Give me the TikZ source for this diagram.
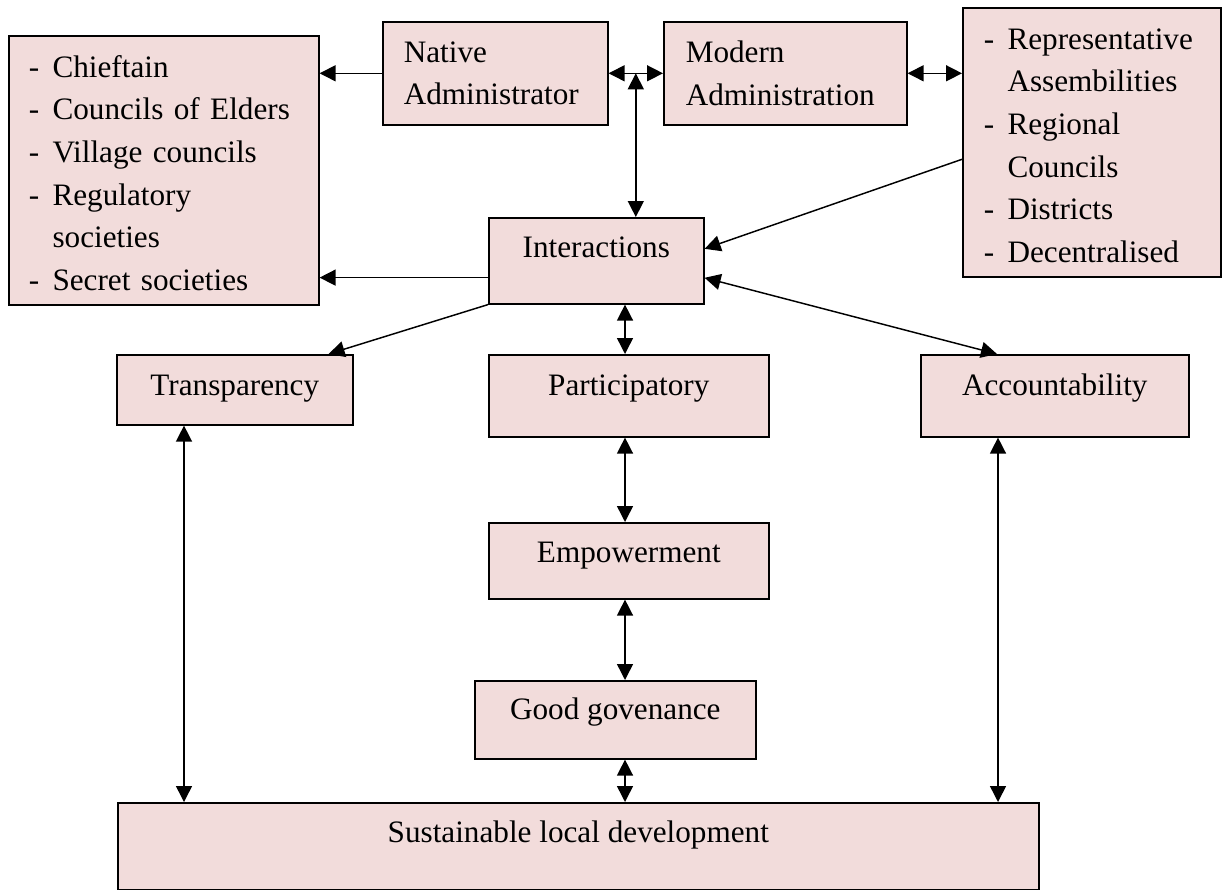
\documentclass[tikz,border=0pt]{standalone}
\usepackage{fontspec}
\setmainfont{Liberation Serif}
\usetikzlibrary{arrows.meta,calc}
\definecolor{blush}{HTML}{F2DCDB}

\begin{document}
\begin{tikzpicture}[
  x=0.375pt,y=-0.375pt,
  font=\fontsize{11.7}{16}\selectfont,
  box/.style={draw,line width=0.6pt,fill=blush,anchor=north west,inner sep=0pt},
  list/.style={box,align=left,inner xsep=7.5pt},
  link/.style={-{Triangle[length=6pt,width=6pt]},line width=0.55pt},
  twoway/.style={{Triangle[length=6pt,width=6pt]}-{Triangle[length=6pt,width=6pt]},line width=0.55pt}
]
  \useasboundingbox (0,0) rectangle (1226,889);

  % top row
  \node[list,text width=101.25pt,minimum height=100.875pt] (chiefs) at (8,35)
    {\begin{tabular}{@{}l@{\hspace{5pt}}l@{}}
      \rule{0pt}{15pt}- & Chieftain\\
      - & Councils of Elders\\
      - & Village councils\\
      - & Regulatory\\
        & societies\\
      - & Secret societies
     \end{tabular}};
  \node[list,inner xsep=7.875pt,text width=68.625pt,minimum height=38.625pt] (native) at (382,21) {Native\\Administrator};
  \node[list,inner xsep=8.25pt,text width=74.625pt,minimum height=38.625pt] (modern) at (663,21) {Modern\\Administration};
  \node[list,inner xsep=7.875pt,text width=81pt,minimum height=100.875pt] (rights) at (962,7)
    {\begin{tabular}{@{}l@{\hspace{5pt}}l@{}}
      \rule{0pt}{15pt}- & Representative\\
        & Assembilities\\
      - & Regional\\
        & Councils\\
      - & Districts\\
      - & Decentralised
     \end{tabular}};

  % middle
  \node[box,minimum width=80.625pt,minimum height=32.25pt,text height=15pt,text depth=17.25pt] (inter) at (488,217) {Interactions};
  \node[box,minimum width=88.5pt,minimum height=26.25pt,text height=15.375pt,text depth=10.875pt] (transp) at (116,354) {Transparency};
  \node[box,minimum width=105pt,minimum height=30.75pt,text height=15.375pt,text depth=15.375pt] (partic) at (488,354) {Participatory};
  \node[box,minimum width=100.5pt,minimum height=30.75pt,text height=15.375pt,text depth=15.375pt] (account) at (920,354) {Accountability};
  \node[box,minimum width=105pt,minimum height=28.5pt,text height=15pt,text depth=13.5pt] (empower) at (488,522) {Empowerment};
  \node[box,minimum width=105.375pt,minimum height=29.25pt,text height=14.625pt,text depth=14.625pt] (goodgov) at (474,680) {Good govenance};
  \node[box,minimum width=345.375pt,minimum height=32.625pt,text height=15pt,text depth=17.625pt] (sld) at (117,802) {Sustainable local development};

  \coordinate (hub) at ($(native.east)!0.5!(modern.west)$);
  \coordinate (fromint) at ($(inter.south west)+(0,-27)$);
  \coordinate (spine) at (625,0);
  \coordinate (leftrail) at (184,0);
  \coordinate (rightrail) at (998,0);

  \path[link]
    (native.west) edge (native.west -| chiefs.east)
    (fromint) edge (fromint -| chiefs.east)
    ($(rights.west)+(0,17)$) edge ($(inter.east)+(0,-12)$)
    (inter.south west) edge ($(transp.north east)+(-25,0)$);
  \path[twoway]
    (native.east) edge (modern.west)
    (modern.east) edge (modern.east -| rights.west)
    (hub) edge (hub |- inter.north)
    ($(inter.east)+(0,17)$) edge ($(account.north west)+(77,0)$)
    (spine |- inter.south) edge (spine |- partic.north)
    (spine |- partic.south) edge (spine |- empower.north)
    (spine |- empower.south) edge (spine |- goodgov.north)
    (spine |- goodgov.south) edge (spine |- sld.north)
    (leftrail |- transp.south) edge (leftrail |- sld.north)
    (rightrail |- account.south) edge (rightrail |- sld.north);
\end{tikzpicture}
\end{document}
